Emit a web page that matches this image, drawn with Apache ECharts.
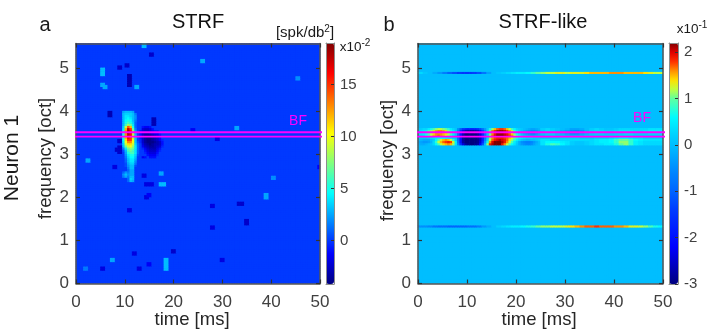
<!DOCTYPE html>
<html>
<head>
<meta charset="utf-8">
<style>
  html, body { margin: 0; padding: 0; background: #fff; }
  #chart { width: 723px; height: 331px; }
</style>
<script src="https://cdn.jsdelivr.net/npm/echarts@6/dist/echarts.min.js"></script>
</head>
<body>
<div id="chart"></div>
<script>
// ---- data ----
var timeTicks = [0, 10, 20, 30, 40, 50];
var freqTicks = [0, 1, 2, 3, 4, 5];
var strfBarTicks = [0, 5, 10, 15];
var likeBarTicks = [-3, -2, -1, 0, 1, 2];
var bfTime = { a: [-1.9, 51.4], b: [-1.3, 50.9] };
var bfFreq = [3.41, 3.51];

// panel a: excitatory peak, 0.5 ms / 0.05 oct cells, first col 9 ms, first row 3.95 oct
var strfPeakRows = [
  [0, 2.5, 3, 3, 3, 2.5, 0, 0],
  [0, 3, 3.5, 3.5, 3.5, 3, 1.5, 0],
  [0, 3, 4, 4, 3.5, 3, 2, 0],
  [0, 3, 4, 4.5, 4, 3, 2, 0],
  [0, 3, 4.5, 5, 4.5, 3, 1.5, 0],
  [0, 3, 5, 6, 5, 3.5, 1, 0],
  [0, 3, 6, 8, 7, 4, 1, 0],
  [0, 3.5, 9, 14, 12, 5, 1, 0],
  [0, 4, 12, 17.5, 15, 7, 1.5, 0],
  [0, 5, 13, 18.5, 16, 8, 2, 0],
  [0, 5, 13, 18, 16, 9, 2.5, 0],
  [0, 5, 13, 17, 16, 9, 3, 0],
  [0, 5, 12, 16, 15, 9, 3, 0],
  [0, 4.5, 11, 15, 15, 10, 3, 0],
  [0, 4, 10, 13, 13, 10, 3, 0.5],
  [0, 3.5, 9, 11, 11, 9, 3.5, 1],
  [0, 3, 7, 9, 10, 8, 4, 1],
  [0, 1.5, 4, 7, 8, 7, 4, 1],
  [0, 0.5, 3, 6, 7, 6, 4, 1],
  [0, 0, 2.5, 5, 6, 6, 4, 1],
  [0, 0, 2, 4, 5, 5, 3.5, 0.5],
  [0, 0, 1.5, 3.5, 4.5, 4.5, 3, 0],
  [0, 0, 1, 3, 4, 4, 2.5, 0],
  [0, 0, 1, 3, 4, 4, 2, 0],
  [0, 0, 0.5, 2.5, 3.5, 3.5, 1.5, 0],
  [0, 0, 0.5, 2, 3, 3, 0.5, 0],
  [0, 0, 0, 1.5, 3, 3, 0, 0],
  [0, 0, 0, 1, 2.5, 2.5, 0, 0],
  [0, 1, 2, 1.5, 2.5, 2.5, 0, 0],
  [0, 2, 3, 2, 2.5, 2.5, 0, 0],
  [0, 1.5, 2.5, 1.5, 3, 3, 0, 0],
  [0, 0, 0, 1, 3.5, 3, 0, 0],
  [0, 0, 0, 1, 3, 2.5, 0, 0]
];
// panel a: inhibitory blob, first col 13 ms, first row 3.60 oct
var strfDipRows = [
  [0, -1, -1.5, -1.5, -1, 0, 0, 0, 0, 0],
  [0, -2, -2.5, -2.5, -2, -1, 0, 0, 0, 0],
  [-1, -2, -2.5, -2.5, -2, -1.5, -1, -1, 0, 0],
  [-1, -2.5, -3, -3, -2.5, -2, -1.5, -1.5, -0.5, 0],
  [-1, -2.5, -3.5, -3.5, -3.5, -3, -2.5, -2, -1, 0],
  [-1, -2.5, -3.5, -4, -4, -3.5, -3, -2.5, -1.5, 0],
  [-0.5, -2.5, -3.5, -4, -4, -3.5, -3, -2.5, -1.5, -0.5],
  [-0.5, -2.5, -3.5, -4, -4, -4, -3.5, -3, -2.5, -1],
  [0, -2, -3, -3.5, -4, -3.5, -3, -3, -2.5, -1],
  [0, -1.5, -2.5, -3, -3.5, -3.5, -3, -2.5, -2, -0.5],
  [0, -0.5, -1.5, -2.5, -3, -3, -3, -2, -1, 0],
  [0, 0, -1, -2, -2.5, -2.5, -2.5, -1.5, -0.5, 0],
  [0, 0, -0.5, -1.5, -2, -2, -2, -1, 0, 0],
  [0, 0, 0, -1, -1.5, -1.5, -1.5, -0.5, 0, 0],
  [0, -1.5, -1, 0, -1, -1, -1, 0, 0, 0]
];
// panel a: isolated spots [ms, oct, value], 1 ms x 0.1 oct each
var strfSpots = [
  [13.8, 5.48, 3], [15.3, 5.3, -2.5], [25.9, 5.12, 2.5], [5, 4.85, 3], [5, 4.92, 3],
  [5.1, 4.58, 2.5], [5.6, 4.52, 2.5], [8.7, 4.97, -2.5], [10.4, 5.03, -2.5],
  [10.7, 4.58, -3], [10.7, 4.68, -3], [10.7, 4.78, -3], [12.2, 4.55, 2.5],
  [45.4, 4.74, 2], [6.8, 3.87, -3], [6.8, 3.92, -3], [15.9, 3.68, -3],
  [15.9, 3.76, -3], [32.9, 3.56, 2.5], [28.9, 3.32, -2], [23.5, 3.52, -1.5],
  [8, 3.07, -2.5], [8.7, 3.05, -2.5], [8.7, 3.12, -2.5], [8.7, 3.27, -2.5], [7.6, 2.67, -2],
  [2, 2.82, 2.5], [13.8, 2.45, -2], [14, 2.27, -2], [15, 2.27, -2],
  [17.4, 2.52, 2.5], [17, 2.27, 3], [17.6, 2.25, 3], [14, 1.95, -2], [14.6, 2, -1.5],
  [40.2, 2.44, 2], [38.8, 1.97, 2.5], [38.8, 2.02, 2.5], [33, 1.82, -2.5], [33.6, 1.82, -2.5],
  [27.6, 1.76, -2], [34.5, 1.37, -2.5], [34.5, 1.44, -2.5], [27.6, 1.27, -2],
  [10.6, 1.67, -2], [11.7, 0.67, -2], [7.1, 0.54, 2.5], [19.9, 0.72, -2.5],
  [29.5, 0.52, -2], [18.4, 0.33, 3], [18.4, 0.42, 3], [18.4, 0.52, 3], [5.2, 0.35, -2],
  [14.8, 0.42, -1.5], [12.7, 0.35, -2], [1.5, 0.32, 1.5], [49.6, 2.67, -1.5]
];

// panel b, band 3.60 to 3.25 oct (top row first), 0.5 ms columns from 0 to 25 ms
var likeBandEarly = [
  [.2,.2,.3,.3,.5,.7,.9,1.1,1.2,1.2, 1.1,1,.8,.5,.3,.1,-.5,-1.1,-1.5,-1.7, -1.8,-1.8,-1.8,-1.8,-1.6,-1.3,-.9,-.4,.1,.7, 1.1,1.5,1.7,1.8,1.8,1.7,1.5,1.2,.9,.6, .3,.2,.1,0,-.1,-.2,-.3,-.3,-.2,-.1],
  [.3,.4,.5,.7,1,1.2,1.4,1.6,1.7,1.7, 1.6,1.4,1.1,.8,.5,.1,-.8,-1.7,-2.4,-2.8, -2.9,-3,-3,-2.9,-2.7,-2.3,-1.5,-.6,.3,1.1, 1.7,2,2.2,2.2,2.2,2.1,1.9,1.6,1.3,.9, .5,.2,0,-.2,-.4,-.5,-.6,-.6,-.5,-.3],
  [.4,.4,.5,.7,.9,1.2,1.4,1.6,1.6,1.6, 1.5,1.4,1.2,.9,.5,.1,-.9,-1.9,-2.6,-3, -3,-3,-3,-3,-2.8,-2.4,-1.6,-.7,.2,1, 1.6,1.9,2.1,2.1,2.1,2,1.9,1.7,1.4,1, .6,.3,0,-.2,-.4,-.5,-.6,-.6,-.4,-.2],
  [.3,.3,.4,.6,.9,1.2,1.5,1.6,1.7,1.6, 1.5,1.3,1.1,.7,.4,0,-1,-2,-2.7,-3, -3,-3,-3,-3,-2.9,-2.5,-1.7,-.8,.1,1.1, 1.7,2,2.2,2.2,2.2,2.1,2,1.8,1.6,1.2, .8,.5,.2,0,-.1,-.2,-.3,-.3,-.2,-.1],
  [.2,.1,.1,.1,.2,.3,.4,.5,.6,.6, .6,.5,.4,.3,.2,0,-1,-2,-2.8,-3, -3,-3,-3,-3,-2.9,-2.6,-1.8,-.8,.2,1.1, 1.6,1.8,1.9,1.9,1.9,1.8,1.7,1.5,1.3,1, .7,.5,.4,.3,.2,.2,.2,.1,.1,.1],
  [0,-.1,-.2,-.2,-.2,0,.2,.6,1,1.3, 1.5,1.6,1.5,1.2,.8,.2,-.9,-2,-2.8,-3, -3,-3,-3,-3,-2.9,-2.6,-1.8,-.7,.3,1.2, 1.7,1.9,2,2.1,2,1.9,1.7,1.4,1.1,.8, .5,.3,.1,0,-.1,-.1,0,0,.1,.2],
  [-.2,-.3,-.4,-.4,-.3,-.1,.3,.8,1.2,1.5, 1.7,1.8,1.9,1.8,1.3,.5,-.8,-2,-2.8,-3, -3,-3,-3,-3,-2.9,-2.5,-1.6,-.4,.7,1.6, 2,2.2,2.2,2.2,2.1,1.9,1.6,1.2,.9,.5, .2,-.2,-.5,-.6,-.7,-.7,-.6,-.4,-.2,0],
  [-.1,-.2,-.2,-.1,0,.1,.3,.6,.9,1.2, 1.4,1.5,1.6,1.5,1.1,.4,-.6,-1.6,-2.4,-2.8, -2.9,-3,-3,-2.9,-2.8,-2.2,-1.2,0,1.1,1.9, 2.1,2.2,2.2,2.2,1.9,1.6,1.2,.9,.6,.4, .1,-.2,-.4,-.5,-.6,-.6,-.5,-.3,-.1,0]
];
// same band, 1 ms columns from 25 to 50 ms
var likeBandLate = [
  [.2,.3,.2,.1,0,-.1,-.3,-.3,-.2,0,.2,.3,.2,.1,.1,.2,.3,.3,.3,.3,.3,.3,.4,.4,.4],
  [.1,.3,.2,0,-.2,-.4,-.6,-.7,-.5,-.1,.2,.3,.3,.2,.2,.3,.4,.4,.4,.3,.3,.4,.5,.5,.5],
  [.1,.2,.2,0,-.1,-.3,-.5,-.5,-.3,-.1,.1,.2,.2,.1,.1,.2,.2,.3,.3,.2,.2,.2,.3,.3,.3],
  [0,.1,.1,0,0,-.1,-.2,-.2,-.1,0,.1,.1,.1,.1,.1,.1,.2,.2,.2,.1,.1,.1,.1,.1,.1],
  [.1,.1,.1,.1,.2,.2,.2,.2,.1,.1,.1,.2,.2,.2,.3,.4,.5,.5,.4,.3,.3,.2,.2,.2,.2],
  [.4,.4,.3,.3,.3,.3,.3,.3,.3,.3,.3,.4,.5,.5,.6,.8,1,1,.8,.6,.5,.4,.4,.4,.4],
  [.4,.6,.6,.6,.5,.4,.2,.1,.1,.2,.3,.4,.5,.5,.6,.8,1.1,1.1,.8,.5,.4,.3,.3,.3,.3],
  [.4,.7,.9,.8,.6,.4,.2,.1,.1,.2,.3,.4,.4,.5,.5,.7,1,1.1,.8,.5,.4,.3,.3,.3,.3]
];
// panel b, thin lines near 4.85 and 1.3 oct, 1 ms columns
var likeLineHigh = [.3,.1,0,-.2,-.4,-.7,-1,-1.2,-1.4,-1.5,-1.5,-1.4,-1.2,-.8,-.3,0,.1,.2,.3,.4,.5,.5,.6,.8,1,1.1,1.2,1.2,1.3,1.3,1.2,1.3,1.3,1.3,1.4,1.5,1.5,1.5,1.5,1.6,1.6,1.6,1.5,1.5,1.5,1.5,1.4,1.3,1.2,1.2];
var likeLineLow = [-.5,-.5,-.6,-.8,-.9,-.9,-1,-1,-1,-1,-.9,-.9,-.7,-.4,-.2,0,.2,.3,.4,.5,.5,.6,.7,.8,1,1.1,1.1,1.2,1.2,1.2,1.3,1.4,1.5,1.6,1.7,1.7,1.8,1.7,1.7,1.7,1.6,1.6,1.5,1.3,1.3,1.2,1.1,.9,.7,.6];

// ---- layout and colours ----
var font = '"Liberation Sans", Arial, sans-serif';
var frameColor = '#555555';
var tickColor = '#404040';
var rowStep = 0.05;
var rowCount = 111;

var jet = ['#00007f', '#0000ff', '#007fff', '#00ffff', '#7fff7f', '#ffff00', '#ff7f00', '#ff0000', '#7f0000'];
// the right hand bar is not a linear jet: stops every 0.2 from -3 to 2.2
var likeColors = ['#00007f', '#00009f', '#0000bf', '#0000df', '#0000ff', '#000fff', '#001eff', '#002dff', '#003cff', '#0050ff', '#0064ff',
  '#0075ff', '#0085ff', '#0098ff', '#00abff', '#00beff', '#00cfff', '#00e5ff', '#00fbff', '#30ffcf', '#60ff9f', '#c0ff40', '#ffe000',
  '#ff8f00', '#ff3000', '#e00000', '#7f0000'];

function indexList(n) {
  var out = [];
  for (var i = 0; i < n; i++) out.push(i);
  return out;
}

function emptyMatrix(cols) {
  var m = [];
  for (var r = 0; r < rowCount; r++) {
    m.push([]);
    for (var c = 0; c < cols; c++) m[r].push(0);
  }
  return m;
}

function toCells(m) {
  var cells = [];
  m.forEach(function (row, r) {
    row.forEach(function (v, c) { cells.push([c, r, v]); });
  });
  return cells;
}

function buildStrf() {
  var m = emptyMatrix(100);
  strfSpots.forEach(function (s) {
    var c = Math.floor(s[0] / 0.5), r = Math.floor(s[1] / rowStep);
    m[r][c] = s[2]; m[r][c + 1] = s[2];
    m[r + 1][c] = s[2]; m[r + 1][c + 1] = s[2];
  });
  strfPeakRows.forEach(function (row, i) {
    row.forEach(function (v, j) { if (v !== 0) m[79 - i][18 + j] = v; });
  });
  strfDipRows.forEach(function (row, i) {
    row.forEach(function (v, j) { if (v !== 0) m[72 - i][26 + j] = v; });
  });
  return toCells(m);
}

function buildLike() {
  var m = emptyMatrix(100);
  likeBandEarly.forEach(function (row, i) {
    row.forEach(function (v, c) { m[71 - i][c] = v; });
  });
  likeBandLate.forEach(function (row, i) {
    row.forEach(function (v, c) {
      m[71 - i][50 + c * 2] = v;
      m[71 - i][51 + c * 2] = v;
    });
  });
  likeLineHigh.forEach(function (v, c) { m[97][c * 2] = v; m[97][c * 2 + 1] = v; });
  likeLineLow.forEach(function (v, c) { m[26][c * 2] = v; m[26][c * 2 + 1] = v; });
  return toCells(m);
}

var grid = [], xAxis = [], yAxis = [], series = [], visualMap = [];

// one rectangle: hidden category axes for the cells, value axes on all four sides for frame and ticks
function addPanel(p) {
  var g = grid.length;
  grid.push({
    left: p.left, top: p.top, width: p.width, height: p.height, outerBoundsMode: 'none',
    show: true, borderWidth: 0, backgroundColor: p.base
  });
  xAxis.push({ type: 'category', gridIndex: g, show: false, data: indexList(p.cols) });
  yAxis.push({ type: 'category', gridIndex: g, show: false, data: indexList(rowCount) });
  var catX = xAxis.length - 1, catY = yAxis.length - 1;
  var line = { show: true, onZero: false, lineStyle: { color: frameColor, width: 1.5 } };
  var tick = { show: true, inside: true, length: 4, lineStyle: { color: '#333', width: 1.2 } };
  ['bottom', 'top'].forEach(function (pos) {
    xAxis.push({
      type: 'value', gridIndex: g, position: pos, min: 0, max: 50, z: 5, splitLine: { show: false },
      axisLine: line, axisTick: Object.assign({ customValues: timeTicks }, tick),
      axisLabel: { show: pos === 'bottom', customValues: timeTicks, color: tickColor, fontFamily: font, fontSize: 17, margin: 10 },
      name: pos === 'bottom' ? 'time [ms]' : '', nameLocation: 'middle', nameGap: 27, nameMoveOverlap: false,
      nameTextStyle: { color: '#262626', fontFamily: font, fontSize: 18.5, padding: [0, p.nameShift, 0, 0] }
    });
  });
  ['left', 'right'].forEach(function (pos) {
    yAxis.push({
      type: 'value', gridIndex: g, position: pos, min: 0, max: 5.57, z: 5, splitLine: { show: false },
      axisLine: line, axisTick: Object.assign({ customValues: freqTicks }, tick),
      axisLabel: { show: pos === 'left', customValues: freqTicks, color: tickColor, fontFamily: font, fontSize: 17, margin: 7 },
      name: pos === 'left' ? 'frequency [oct]' : '', nameLocation: 'middle', nameGap: 21, nameMoveOverlap: false,
      nameTextStyle: { color: '#262626', fontFamily: font, fontSize: 18.5, padding: [0, 0, 0, p.freqShift] }
    });
  });
  series.push({
    type: 'heatmap', xAxisIndex: catX, yAxisIndex: catY, data: p.cells,
    progressive: 0, silent: true, emphasis: { disabled: true }
  });
  var bf = p.bf;
  series.push({
    type: 'line', xAxisIndex: catX + 1, yAxisIndex: catY + 1, clip: false, silent: true, z: 10,
    showSymbol: false, lineStyle: { color: '#ff00ff', width: 1.8 },
    data: [[bf[0], bfFreq[0]], [bf[1], bfFreq[0]], [bf[1], bfFreq[1]], [bf[0], bfFreq[1]], [bf[0], bfFreq[0]]]
  });
  return series.length - 2;
}

function addColorBar(b) {
  var g = grid.length;
  grid.push({ left: b.left, top: b.top, width: b.width, height: b.height, outerBoundsMode: 'none' });
  var line = { show: true, onZero: false, lineStyle: { color: '#8c8c8c', width: 1 } };
  xAxis.push({ type: 'value', gridIndex: g, position: 'bottom', min: 0, max: 1, z: 5, splitLine: { show: false }, axisLine: line, axisTick: { show: false }, axisLabel: { show: false } });
  xAxis.push({ type: 'value', gridIndex: g, position: 'top', min: 0, max: 1, z: 5, splitLine: { show: false }, axisLine: line, axisTick: { show: false }, axisLabel: { show: false } });
  yAxis.push({ type: 'value', gridIndex: g, position: 'left', min: b.min, max: b.max, z: 5, splitLine: { show: false }, axisLine: line, axisTick: { show: false }, axisLabel: { show: false } });
  yAxis.push({
    type: 'value', gridIndex: g, position: 'right', min: b.min, max: b.max, z: 5, splitLine: { show: false }, axisLine: line,
    axisTick: { show: true, inside: true, length: 3, customValues: b.ticks, lineStyle: { color: '#333' } },
    axisLabel: { customValues: b.ticks, color: tickColor, fontFamily: font, fontSize: 15, margin: b.margin }
  });
  visualMap.push({
    type: 'continuous', seriesIndex: b.seriesIndex, dimension: 2, min: b.min, max: b.max,
    left: b.left, top: b.top, itemWidth: b.width, itemHeight: b.height, padding: 0,
    calculable: false, realtime: false, hoverLink: false, text: null, showLabel: false, inRange: { color: b.colors }
  });
}

var strfIndex = addPanel({ left: 76, top: 43.5, width: 244, height: 240, cols: 100, cells: buildStrf(), bf: bfTime.a, base: '#0039ff', nameShift: 12, freqShift: 10 });
var likeIndex = addPanel({ left: 418, top: 43.5, width: 245, height: 240, cols: 100, cells: buildLike(), bf: bfTime.b, base: '#00beff', nameShift: 3, freqShift: 6 });
addColorBar({ left: 326, top: 43, width: 8, height: 241, min: -4.2, max: 19, ticks: strfBarTicks, seriesIndex: strfIndex, colors: jet, margin: 6 });
addColorBar({ left: 669, top: 43, width: 9, height: 241, min: -3, max: 2.2, ticks: likeBarTicks, seriesIndex: likeIndex, colors: likeColors, margin: 6 });

function label(x, y, text, size, extra) {
  return {
    type: 'text', x: x, y: y, z: 20, silent: true, rotation: extra && extra.rotation || 0,
    style: Object.assign({ text: text, fill: '#1a1a1a', font: size + 'px ' + font, align: 'center', verticalAlign: 'middle' }, extra && extra.style)
  };
}

var sup = { rich: { sup: { fontSize: 10, fontFamily: font, padding: [0, 0, 8, 0], fill: '#1a1a1a' } } };

var chart = echarts.init(document.getElementById('chart'), null, { renderer: 'canvas' });
chart.setOption({
  animation: false,
  backgroundColor: '#ffffff',
  title: [
    { text: 'STRF', left: 193, top: 7, textAlign: 'center', textStyle: { fontFamily: font, fontSize: 20, fontWeight: 'normal', color: '#111' } },
    { text: 'STRF-like', left: 538, top: 7, textAlign: 'center', textStyle: { fontFamily: font, fontSize: 20, fontWeight: 'normal', color: '#111' } }
  ],
  grid: grid,
  xAxis: xAxis,
  yAxis: yAxis,
  visualMap: visualMap,
  series: series,
  graphic: [
    label(45, 25, 'a', 20),
    label(389, 25, 'b', 20),
    label(12, 158, 'Neuron 1', 21, { rotation: Math.PI / 2 }),
    label(298, 121, 'BF', 14, { style: { fill: '#ff00ff' } }),
    label(642, 118, 'BF', 14, { style: { fill: '#ff00ff' } }),
    label(305, 33, '[spk/db{sup|2}]', 15, { style: sup }),
    label(355, 47, 'x10{sup|-2}', 13.5, { style: sup }),
    label(692, 29, 'x10{sup|-1}', 13.5, { style: sup })
  ]
});
</script>
</body>
</html>
